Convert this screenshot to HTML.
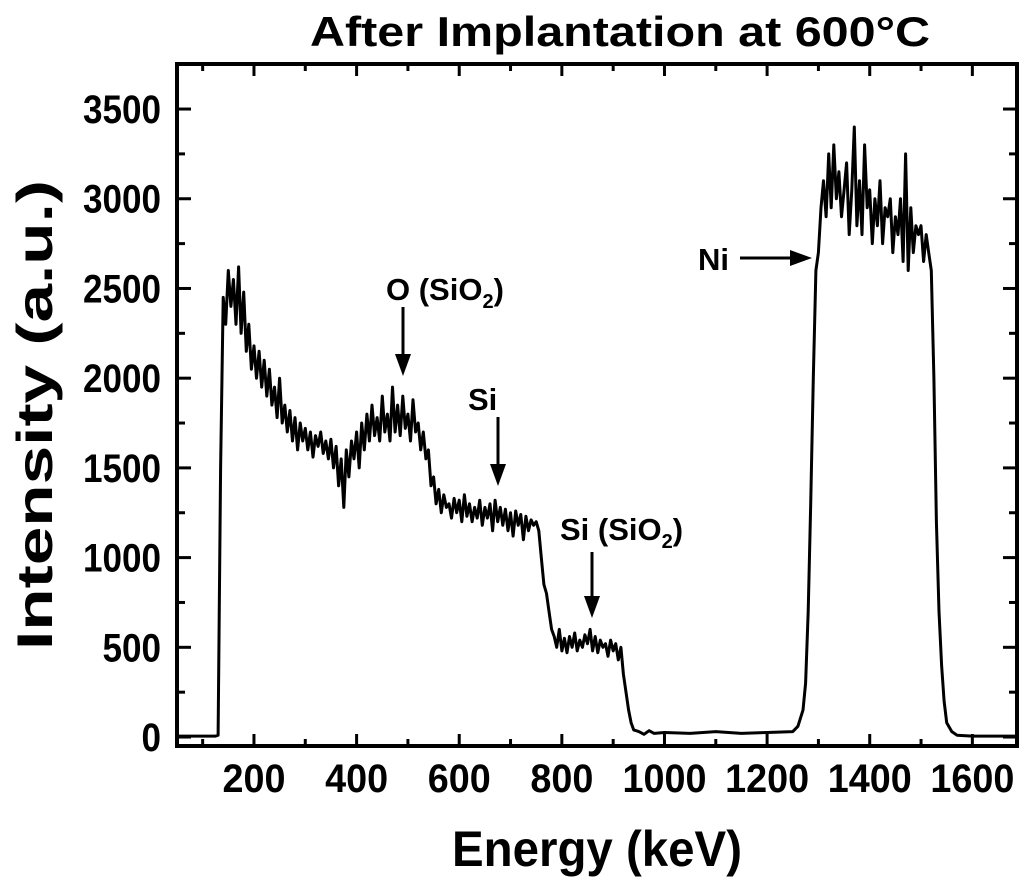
<!DOCTYPE html>
<html><head><meta charset="utf-8"><style>
html,body{margin:0;padding:0;background:#fff}
svg{display:block}
text{font-family:"Liberation Sans",Arial,sans-serif;font-weight:bold;fill:#000}
</style></head><body>
<svg id="chart" width="1024" height="883" viewBox="0 0 1024 883">
<text x="620" y="46" font-size="42" text-anchor="middle" textLength="620" lengthAdjust="spacingAndGlyphs">After Implantation at 600°C</text>
<g id="axes"></g>
<path id="series" fill="none" stroke="#000" stroke-width="3" stroke-linejoin="round"/>
<rect x="177" y="64" width="840" height="682" fill="none" stroke="#000" stroke-width="4"/>
<text transform="translate(52,415) rotate(-90)" font-size="50" text-anchor="middle" textLength="470" lengthAdjust="spacingAndGlyphs">Intensity (a.u.)</text>
<text x="597" y="866" font-size="50" text-anchor="middle" textLength="290" lengthAdjust="spacingAndGlyphs">Energy (keV)</text>
<g id="annotations"></g>
</svg>
<script>
const energies=[50,100,125,130,135,140,145,150,155,160,165,170,175,180,185,190,195,200,205,210,215,220,225,230,235,240,245,250,255,260,265,270,275,280,285,290,295,300,305,310,315,320,325,330,335,340,345,350,355,360,365,370,375,380,385,390,395,400,405,410,415,420,425,430,435,440,445,450,455,460,465,470,475,480,485,490,495,500,505,510,515,520,525,530,535,540,545,550,555,560,565,570,575,580,585,590,595,600,605,610,615,620,625,630,635,640,645,650,655,660,665,670,675,680,685,690,695,700,705,710,715,720,725,730,735,740,745,750,755,760,765,770,775,780,785,790,795,800,805,810,815,820,825,830,835,840,845,850,855,860,865,870,875,880,885,890,895,900,905,910,915,920,925,930,935,940,950,960,970,980,1000,1050,1100,1150,1200,1250,1260,1270,1275,1280,1285,1290,1295,1300,1305,1310,1315,1320,1325,1330,1335,1340,1345,1350,1355,1360,1365,1370,1375,1380,1385,1390,1395,1400,1405,1410,1415,1420,1425,1430,1435,1440,1445,1450,1455,1460,1465,1470,1475,1480,1485,1490,1495,1500,1505,1510,1515,1520,1525,1530,1535,1540,1545,1550,1560,1570,1600,1687];
const counts=[5,5,5,10,1500,2450,2300,2600,2400,2550,2300,2620,2250,2480,2150,2300,2050,2180,2000,2150,1950,2100,1900,2050,1850,1950,1780,2000,1750,1850,1700,1820,1650,1780,1600,1750,1650,1720,1600,1700,1560,1680,1620,1700,1580,1650,1550,1660,1500,1620,1400,1550,1280,1600,1450,1650,1550,1700,1500,1750,1600,1800,1650,1850,1680,1780,1650,1900,1700,1800,1650,1950,1700,1850,1680,1900,1720,1800,1650,1880,1700,1750,1600,1700,1550,1600,1400,1450,1300,1380,1250,1350,1280,1300,1220,1330,1250,1320,1200,1350,1230,1300,1200,1280,1220,1320,1180,1280,1220,1300,1150,1320,1200,1280,1180,1270,1150,1250,1120,1260,1180,1240,1100,1230,1150,1210,1180,1200,1150,1000,850,800,700,600,560,500,600,480,550,470,560,500,580,480,540,500,570,520,600,480,560,470,540,500,520,450,540,480,520,430,500,350,250,150,80,40,30,15,35,20,25,20,30,20,25,30,60,150,300,700,1300,2000,2600,2700,2950,3100,2900,3250,2950,3300,3000,3150,2900,3050,3200,2800,3050,3400,2850,3100,2800,3300,2950,3050,2750,3000,2850,3100,2750,2950,2900,3000,2700,2900,2800,3000,2650,3250,2600,2950,2700,2850,2800,2850,2650,2800,2700,2600,2000,1200,700,400,200,80,30,10,5,5];
const xTicks=[200,400,600,800,1000,1200,1400,1600];
const xMinor=[100,300,500,700,900,1100,1300,1500,1700];
const yTicks=[0,500,1000,1500,2000,2500,3000,3500];
const yMinor=[250,750,1250,1750,2250,2750,3250];
const NS='http://www.w3.org/2000/svg';
const L=177,R=1017,T=64,B=746;
const xMin=50,xMax=1687,yMin=-50,yMax=3751;
const X=v=>L+(v-xMin)/(xMax-xMin)*(R-L);
const Y=v=>B-(v-yMin)/(yMax-yMin)*(B-T);
function mk(tag,attrs,parent){const e=document.createElementNS(NS,tag);for(const k in attrs)e.setAttribute(k,attrs[k]);parent.appendChild(e);return e;}
const ax=document.getElementById('axes');
xTicks.forEach(v=>{const x=X(v);
 const t=mk('line',{x1:x,x2:x,y1:B,y2:B-12,stroke:'#000','stroke-width':3},ax);
 
 
 const t2=mk('line',{x1:x,x2:x,y1:T,y2:T+12,stroke:'#000','stroke-width':3},ax);
 
 
 const s=String(v);
 const l=mk('text',{x:x,y:792,'font-size':40,'text-anchor':'middle',textLength:s.length*21,lengthAdjust:'spacingAndGlyphs'},ax);
 l.textContent=s;
 
 
});
xMinor.forEach(v=>{const x=X(v);if(x>R)return;
 const t=mk('line',{x1:x,x2:x,y1:B,y2:B-7,stroke:'#000','stroke-width':3},ax);
 
 
 const t2=mk('line',{x1:x,x2:x,y1:T,y2:T+7,stroke:'#000','stroke-width':3},ax);
 
 
});
yTicks.forEach(v=>{const y=Y(v);
 const t=mk('line',{x1:L,x2:L+14,y1:y,y2:y,stroke:'#000','stroke-width':3},ax);
 
 
 const t2=mk('line',{x1:R,x2:R-14,y1:y,y2:y,stroke:'#000','stroke-width':3},ax);
 
 
 const s=String(v);
 const l=mk('text',{x:161,y:y+14,'font-size':40,'text-anchor':'end',textLength:s.length*19.5,lengthAdjust:'spacingAndGlyphs'},ax);
 l.textContent=s;
 
 
});
yMinor.forEach(v=>{const y=Y(v);
 const t=mk('line',{x1:L,x2:L+8,y1:y,y2:y,stroke:'#000','stroke-width':3},ax);
 
 
 const t2=mk('line',{x1:R,x2:R-8,y1:y,y2:y,stroke:'#000','stroke-width':3},ax);
 
 
});
let d='';
energies.forEach((e,i)=>{d+=(i?'L':'M')+X(e).toFixed(1)+','+Y(counts[i]).toFixed(1);});
document.getElementById('series').setAttribute('d',d);
const an=document.getElementById('annotations');
function arrow(x1,y1,x2,y2,name){
 const g=mk('g',{},an);
 
 
 const dx=x2-x1,dy=y2-y1,len=Math.hypot(dx,dy),ux=dx/len,uy=dy/len,h=22,w=8;
 mk('line',{x1:x1,y1:y1,x2:x2-ux*h,y2:y2-uy*h,stroke:'#000','stroke-width':3},g);
 const bx=x2-ux*h,by=y2-uy*h;
 mk('polygon',{points:`${x2},${y2} ${bx-uy*w},${by+ux*w} ${bx+uy*w},${by-ux*w}`,fill:'#000'},g);
}
function label(x,y,html,name){
 const t=mk('text',{x:x,y:y,'font-size':31},an);
 t.innerHTML=html;
 
 
}
label(386,300,'O (SiO<tspan font-size="20" dy="8">2</tspan><tspan dy="-8">)</tspan>','label-o-sio2');
arrow(403,307,403,376,'arrow-o-sio2');
label(468,410,'Si','label-si');
arrow(498,417,498,486,'arrow-si');
label(560,540,'Si (SiO<tspan font-size="20" dy="8">2</tspan><tspan dy="-8">)</tspan>','label-si-sio2');
arrow(592,552,592,618,'arrow-si-sio2');
label(698,270,'Ni','label-ni');
arrow(740,258,812,258,'arrow-ni');
</script>
</body></html>
